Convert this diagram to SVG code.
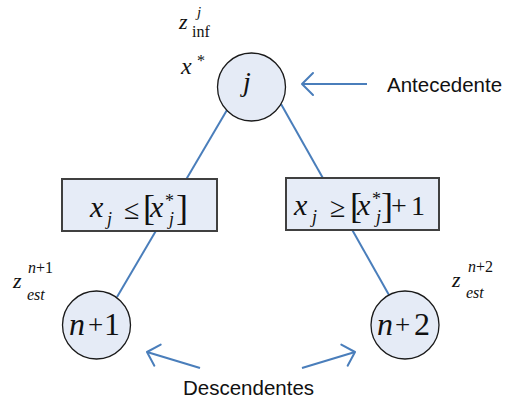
<svg xmlns="http://www.w3.org/2000/svg" width="506" height="401" viewBox="0 0 506 401">
<style>
.node{fill:#e5ebf6;stroke:#1a1a1a;stroke-width:1.3}
.box{fill:#e6ecf7;stroke:#404040;stroke-width:2}
.edge{stroke:#4a7ebb;stroke-width:2;fill:none}
.m{font-family:"Liberation Serif","Times New Roman",serif;fill:#111}
.i{font-style:italic}
.u{font-style:normal}
.lbl{font-family:"Liberation Sans",Arial,sans-serif;font-size:20.5px;fill:#111}
</style>
<defs>
<marker id="ah" markerUnits="userSpaceOnUse" viewBox="-15 -15 30 30" markerWidth="30" markerHeight="30" refX="0" refY="0" orient="auto">
<path d="M-11,-11 L0,0 L-11,11" fill="none" stroke="#4a7ebb" stroke-width="2" stroke-linejoin="round" stroke-linecap="round"/>
</marker>
</defs>
<g id="connectors">
<line class="edge" x1="227" y1="110" x2="117" y2="297"/>
<line class="edge" x1="281" y1="104" x2="389" y2="295"/>
<line class="edge" x1="367" y1="84" x2="302" y2="84" marker-end="url(#ah)"/>
<line class="edge" x1="200" y1="368" x2="147" y2="352" marker-end="url(#ah)"/>
<line class="edge" x1="302" y1="368" x2="355" y2="352" marker-end="url(#ah)"/>
</g>
<g id="node-j">
<circle class="node" cx="251.5" cy="87" r="34"/>
<text class="m i" x="243" y="91" font-size="28">j</text>
</g>
<g id="label-root">
<text class="m i" font-size="22"><tspan x="179" y="29">z</tspan><tspan class="u" x="192" y="37" font-size="16">inf</tspan><tspan x="197" y="17" font-size="15">j</tspan></text>
<text class="m i" font-size="24"><tspan x="181" y="74">x</tspan><tspan class="u" x="197" y="66" font-size="16">*</tspan></text>
</g>
<g id="box-left">
<rect class="box" x="62" y="179" width="155" height="52"/>
<text class="m i" font-size="30"><tspan x="90" y="217">x</tspan><tspan x="107" y="225" font-size="18">j</tspan><tspan class="u" x="124" y="219" font-size="28">≤</tspan><tspan class="u" x="143" y="220" font-size="36">[</tspan><tspan x="150" y="217">x</tspan><tspan class="u" x="165" y="207" font-size="18">*</tspan><tspan x="169" y="225" font-size="18">j</tspan><tspan class="u" x="176" y="220" font-size="36">]</tspan></text>
</g>
<g id="box-right">
<rect class="box" x="286" y="178" width="153" height="52"/>
<text class="m i" font-size="30"><tspan x="294" y="215">x</tspan><tspan x="312" y="223" font-size="18">j</tspan><tspan class="u" x="330" y="217" font-size="28">≥</tspan><tspan class="u" x="350" y="218" font-size="36">[</tspan><tspan x="357" y="215">x</tspan><tspan class="u" x="372" y="205" font-size="18">*</tspan><tspan x="376" y="223" font-size="18">j</tspan><tspan class="u" x="381" y="218" font-size="36">]</tspan><tspan class="u" x="391" y="215" font-size="28">+</tspan><tspan class="u" x="411" y="215" font-size="28">1</tspan></text>
</g>
<g id="node-n1">
<circle class="node" cx="96.5" cy="325" r="34"/>
<text class="m i" font-size="32"><tspan x="69" y="335">n</tspan><tspan class="u" x="88" y="334" font-size="27">+</tspan><tspan class="u" x="104" y="335">1</tspan></text>
</g>
<g id="label-n1">
<text class="m i" font-size="22"><tspan x="13" y="288">z</tspan><tspan x="27" y="300" font-size="16">est</tspan><tspan x="28" y="273" font-size="16">n</tspan><tspan class="u" x="36" y="273" font-size="16">+1</tspan></text>
</g>
<g id="node-n2">
<circle class="node" cx="405" cy="325" r="34"/>
<text class="m i" font-size="32"><tspan x="377" y="335">n</tspan><tspan class="u" x="395" y="334" font-size="27">+</tspan><tspan class="u" x="414" y="335">2</tspan></text>
</g>
<g id="label-n2">
<text class="m i" font-size="22"><tspan x="452" y="287">z</tspan><tspan x="466" y="298" font-size="16">est</tspan><tspan x="468" y="272" font-size="16">n</tspan><tspan class="u" x="476" y="272" font-size="16">+2</tspan></text>
</g>
<g id="antecedente">
<text class="lbl" x="387" y="92">Antecedente</text>
</g>
<g id="descendentes">
<text class="lbl" x="248.5" y="395" text-anchor="middle">Descendentes</text>
</g>
</svg>
